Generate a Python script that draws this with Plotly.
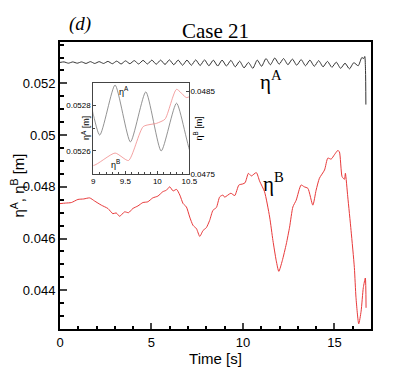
import plotly.graph_objects as go

# eta A (black), peaks / troughs
t_a = [0.0, 0.22, 0.46, 0.70, 0.94, 1.18, 1.42, 1.66, 1.90, 2.14, 2.38, 2.62, 2.86, 3.10,
       3.34, 3.58, 3.82, 4.06, 4.30, 4.54, 4.78, 5.02, 5.26, 5.50, 5.74, 5.98, 6.22, 6.46,
       6.70, 6.94, 7.18, 7.42, 7.66, 7.90, 8.14, 8.38, 8.62, 8.86, 9.10, 9.34, 9.58, 9.82,
       10.06, 10.30, 10.54, 10.78, 11.02, 11.26, 11.50, 11.74, 11.98, 12.22, 12.46, 12.70,
       12.94, 13.18, 13.42, 13.66, 13.90, 14.14, 14.38, 14.62, 14.86, 15.10, 15.34, 15.58,
       15.82, 16.06, 16.30, 16.50, 16.60, 16.66, 16.70, 16.72]
eta_a = [0.05281, 0.05283, 0.05278, 0.05283, 0.05278, 0.05283, 0.05277, 0.05284, 0.05277,
         0.05284, 0.05277, 0.05285, 0.05276, 0.05286, 0.05275, 0.05287, 0.05276, 0.05288,
         0.05275, 0.05289, 0.05275, 0.05290, 0.05274, 0.05290, 0.05273, 0.05291, 0.05272,
         0.05290, 0.05270, 0.05290, 0.05270, 0.05291, 0.05269, 0.05291, 0.05268, 0.05290,
         0.05267, 0.05290, 0.05267, 0.05289, 0.05264, 0.05286, 0.05260, 0.05281, 0.05258,
         0.05290, 0.05266, 0.05296, 0.05272, 0.05298, 0.05274, 0.05296, 0.05272, 0.05294,
         0.05270, 0.05292, 0.05268, 0.05290, 0.05266, 0.05288, 0.05264, 0.05285, 0.05262,
         0.05282, 0.05258, 0.05278, 0.05256, 0.05280, 0.05268, 0.05300, 0.05296, 0.05304,
         0.05250, 0.05118]

# eta B (red)
t_b = [0.0, 0.3, 0.62, 0.98, 1.3, 1.62, 1.89, 2.26, 2.62, 2.89, 3.07, 3.26, 3.53, 3.75,
       3.98, 4.26, 4.53, 4.8, 5.07, 5.35, 5.62, 5.82, 6.0, 6.18, 6.37, 6.55, 6.73, 6.91,
       7.09, 7.27, 7.46, 7.64, 7.82, 8.0, 8.18, 8.36, 8.55, 8.73, 8.91, 9.0, 9.34, 9.55,
       9.78, 9.99, 10.12, 10.30, 10.46, 10.73, 10.91, 11.18, 11.46, 11.64, 11.82, 11.96,
       12.15, 12.37, 12.55, 12.73, 12.91, 13.18, 13.35, 13.55, 13.82, 14.0, 14.18, 14.46,
       14.64, 14.82, 15.0, 15.18, 15.27, 15.42, 15.55, 15.6, 15.73, 15.91, 16.09, 16.18,
       16.33, 16.46, 16.58, 16.69, 16.73]
eta_b = [0.04735, 0.04737, 0.04739, 0.04751, 0.04753, 0.04757, 0.04745, 0.04729, 0.04716,
         0.04696, 0.04699, 0.04686, 0.04703, 0.04700, 0.04716, 0.04726, 0.04739, 0.04742,
         0.04757, 0.04764, 0.04781, 0.04787, 0.04800, 0.04784, 0.04790, 0.04768, 0.04735,
         0.04722, 0.04683, 0.04651, 0.04638, 0.04608, 0.04631, 0.04642, 0.04670, 0.04709,
         0.04720, 0.04761, 0.04768, 0.04760, 0.04775, 0.04766, 0.04807, 0.04811, 0.04816,
         0.04852, 0.04842, 0.04855, 0.04822, 0.04781, 0.04683, 0.04592, 0.04514, 0.04473,
         0.04514, 0.04579, 0.04644, 0.04722, 0.04748, 0.04807, 0.04800, 0.04794, 0.04729,
         0.04787, 0.04833, 0.04865, 0.04911, 0.04907, 0.04924, 0.04940, 0.04936, 0.04839,
         0.04829, 0.04852, 0.04761, 0.04631, 0.04488, 0.04371, 0.04270, 0.04319, 0.04410,
         0.04447, 0.04332]

sans = "Liberation Sans, Arial, sans-serif"
serif = "Liberation Serif, Times New Roman, serif"

fig = go.Figure()
fig.add_trace(go.Scatter(x=t_a, y=eta_a, mode="lines", line=dict(color="#333333", width=1, shape="spline", smoothing=0.6)))
fig.add_trace(go.Scatter(x=t_b, y=eta_b, mode="lines", line=dict(color="#e8393a", width=1, shape="spline", smoothing=0.6)))

# inset, same data zoomed
fig.add_trace(go.Scatter(x=t_a, y=eta_a, mode="lines", xaxis="x2", yaxis="y2",
                         line=dict(color="#777777", width=0.8, shape="spline", smoothing=0.6)))
fig.add_trace(go.Scatter(x=t_b, y=eta_b, mode="lines", xaxis="x2", yaxis="y3",
                         line=dict(color="#f08a8a", width=0.8, shape="spline", smoothing=0.6)))

ax = dict(showline=True, linecolor="black", linewidth=2, mirror=True, ticks="inside",
          showgrid=False, zeroline=False, automargin=False,
          tickfont=dict(family=sans, size=13, color="black"))
inax = dict(showgrid=False, zeroline=False, automargin=False, ticks="inside", ticklen=3,
            tickcolor="#444444", tickfont=dict(family=sans, size=8, color="black"))
# page body adds an 8px offset, margins compensate
fig.update_layout(
    width=415, height=369, showlegend=False,
    plot_bgcolor="white", paper_bgcolor="white",
    margin=dict(l=52, r=52, t=34, b=48),
    xaxis=dict(ax, range=[0, 17], dtick=5, tick0=0, ticklen=6, tickwidth=1.5,
               minor=dict(dtick=1, ticks="inside", ticklen=3, tickcolor="black"),
               title=dict(text="Time [s]", font=dict(family=sans, size=15, color="black"), standoff=4)),
    yaxis=dict(ax, range=[0.0425, 0.0536], dtick=0.002, tick0=0.044, ticklen=7, tickwidth=1.5,
               minor=dict(dtick=0.0005, ticks="inside", ticklen=4, tickcolor="black"),
               title=dict(text="η<sup>A</sup>, η<sup>B</sup> [m]", font=dict(family=sans, size=15, color="black"), standoff=4)),
    xaxis2=dict(inax, domain=[0.107, 0.416], anchor="y2", range=[9, 10.5], dtick=0.5,
                showline=True, linecolor="#444444", linewidth=1, mirror=True,
                minor=dict(dtick=0.1, ticks="inside", ticklen=2, tickcolor="#444444")),
    yaxis2=dict(inax, domain=[0.541, 0.858], anchor="x2", range=[0.0525, 0.0529], dtick=0.0002,
                tick0=0.0526, showline=True, linecolor="#444444", linewidth=1, mirror=True,
                minor=dict(dtick=0.0001, ticks="inside", ticklen=2, tickcolor="#444444")),
    yaxis3=dict(inax, overlaying="y2", anchor="x2", side="right", range=[0.0475, 0.0486],
                dtick=0.001, tick0=0.0475, showline=False),
)


def label(text, x, y, font, size, angle=0):
    fig.add_annotation(text=text, x=x, y=y, xref="paper", yref="paper", xanchor="center",
                       yanchor="middle", textangle=angle, showarrow=False,
                       font=dict(family=font, size=size, color="black"))


label("Case 21", 0.5, 1.04, serif, 21)
label("<i>(d)</i>", 0.064, 1.063, serif, 19)
label("η<sup>A</sup>", 0.68, 0.865, serif, 21)
label("η<sup>B</sup>", 0.685, 0.51, serif, 21)
# inset labels
label("η<sup>A</sup>", 0.205, 0.83, sans, 9)
label("η<sup>B</sup>", 0.18, 0.575, sans, 9)
label("η<sup>A</sup> [m]", 0.083, 0.70, sans, 9, -90)
label("η<sup>B</sup> [m]", 0.445, 0.70, sans, 9, -90)

fig.write_html("out.html")
